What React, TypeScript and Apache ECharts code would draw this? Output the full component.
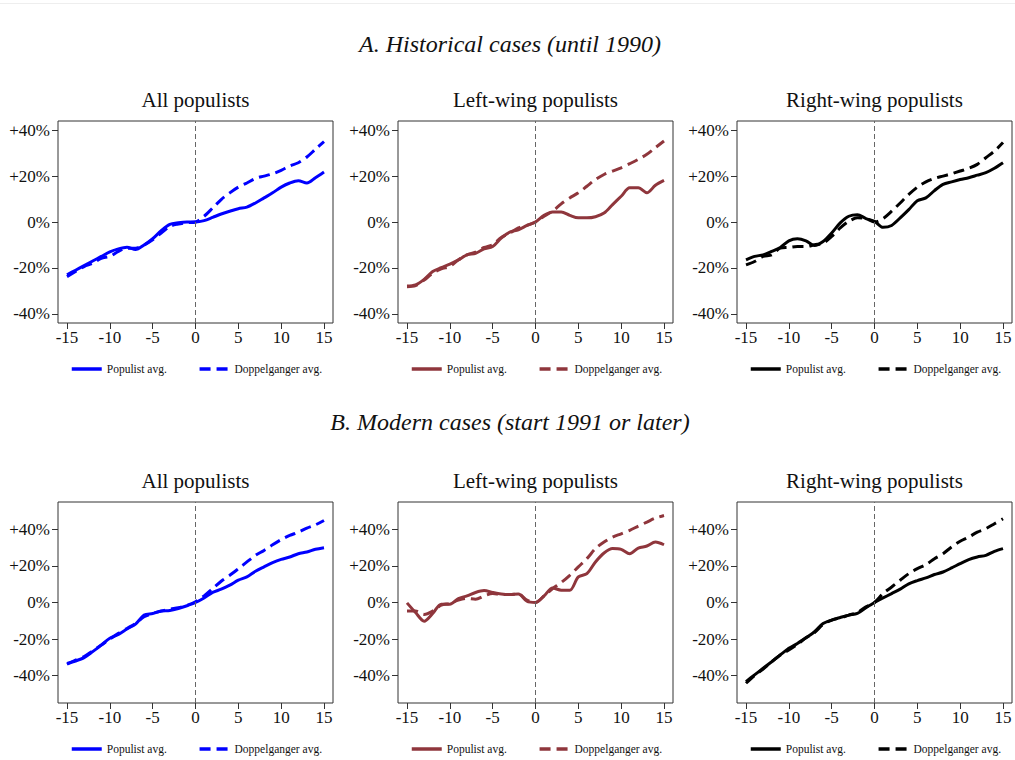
import React, { useEffect, useRef } from 'react';
import * as echarts from 'echarts';

const FONT = '"Liberation Serif", "Times New Roman", serif';

const years = [-15, -14, -13, -12, -11, -10, -9, -8, -7, -6, -5, -4, -3, -2, -1, 0, 1, 2, 3, 4, 5, 6, 7, 8, 9, 10, 11, 12, 13, 14, 15];
const xTicks = [-15, -10, -5, 0, 5, 10, 15];
const yTicks = [-40, -20, 0, 20, 40];

const headings = ['A. Historical cases (until 1990)', 'B. Modern cases (start 1991 or later)'];
const panelTitles = ['All populists', 'Left-wing populists', 'Right-wing populists'];
const legendNames = ['Populist avg.', 'Doppelganger avg.'];
const panelColors = ['#0000ff', '#8f363c', '#000000'];

// A. Historical cases
const histAllPop = [-23, -21, -19, -17, -15, -13, -11.7, -11, -12, -10, -7.3, -3.8, -1, -0.3, 0, 0, 0.6, 2, 3.5, 4.7, 5.8, 6.5, 8.3, 10.5, 12.7, 15.2, 17, 18, 17, 19.3, 21.8];
const histAllDop = [-23.8, -21.6, -19.4, -18, -15.8, -15, -12.8, -11.4, -11.4, -10, -7.7, -4.8, -1.9, -0.9, -0.3, 0, 2.5, 6.1, 9.8, 12.7, 15.2, 17, 19, 20, 21, 22.5, 24.4, 25.8, 28.3, 31.7, 35];
const histLeftPop = [-27.9, -27.4, -25, -21.6, -19.9, -18.4, -16.5, -14.3, -13.6, -11.7, -10.7, -7, -4.4, -3.4, -1.5, 0, 2.9, 4.4, 4.4, 2.9, 1.8, 1.8, 2.3, 3.9, 7.6, 11.2, 14.9, 14.9, 12.7, 16, 18.1];
const histLeftDop = [-28.2, -27.7, -25.3, -22.3, -20.4, -19.4, -16.5, -14.3, -13.1, -11.1, -9.9, -6.7, -4.8, -2.6, -1.5, 0, 2.5, 4.7, 7.9, 10.5, 12.7, 15.6, 18.5, 20.7, 22.2, 23.6, 25.4, 27.3, 29.5, 32.4, 35.3];
const histRightPop = [-16.5, -15, -14.3, -12.8, -11.1, -8.2, -7.3, -8.2, -10.2, -8.5, -4.8, -0.4, 2.5, 3.2, 1.5, 0.3, -2.3, -1.5, 1.8, 5.4, 9.3, 10.5, 13.7, 16.4, 17.5, 18.5, 19.3, 20.4, 21.5, 23.4, 25.8];
const histRightDop = [-18.7, -17.2, -15, -14.3, -11.4, -11.1, -10.7, -10.7, -9.9, -9.2, -6.3, -2.6, 0.3, 1.8, 1.5, 0, 1.5, 4.7, 8.3, 12, 15.2, 17.5, 19, 20, 21, 22.2, 23.4, 25.1, 28, 30.9, 34.6];

// B. Modern cases
const modAllPop = [-33.3, -32, -30.2, -26.9, -23.3, -19.6, -17.5, -14.5, -11.8, -6.9, -6, -4.7, -4.4, -3.3, -1.8, 0, 2.5, 5.5, 7.3, 9.5, 12.2, 14, 17.1, 19.5, 21.8, 23.6, 24.9, 26.7, 27.6, 29.1, 30];
const modAllDop = [-33.8, -31.5, -29.6, -26.5, -23.3, -20, -16.9, -14.2, -11.5, -7.8, -6, -4.7, -3.6, -2.9, -1.5, 0.4, 3.6, 7.6, 11.6, 14.9, 18.5, 22.2, 25.8, 28.5, 31.6, 34.4, 36.7, 38.5, 40.7, 42.5, 44.9];
const modLeftPop = [-0.2, -5.5, -10.2, -6, -0.9, -0.9, 2.2, 3.6, 5.5, 6.5, 5.5, 4.7, 4.4, 4.7, 0.7, 0, 3.6, 8, 6.7, 6.7, 14, 15.8, 22.2, 27.1, 29.5, 29.1, 26.7, 29.8, 30.9, 33.1, 31.6];
const modLeftDop = [-4.7, -4.7, -6.5, -4.7, -1.5, -0.5, 1.3, 2.2, 1.8, 3.6, 4.9, 4.4, 4.4, 4.7, 1.3, 0, 3.6, 7.6, 10.9, 14.9, 19.5, 24, 29.5, 33.1, 35.8, 37.6, 39.5, 41.8, 44, 46.2, 47.6];
const modRightPop = [-43.3, -39.6, -36, -32.4, -28.7, -25.1, -22.4, -19.3, -16, -11.5, -9.6, -8.2, -6.9, -6, -2.9, 0, 2.5, 4.9, 7.3, 10.2, 12, 13.5, 15.3, 16.7, 18.9, 21.3, 23.5, 24.9, 25.8, 28, 29.5];
const modRightDop = [-44.2, -40, -36.4, -32.4, -28.7, -26, -22.9, -19.3, -16.4, -12, -9.6, -8.4, -6.9, -5.5, -2.4, 0, 4.9, 8.5, 12.2, 15.8, 18.5, 20.7, 24, 26.7, 30.4, 33.5, 35.8, 38.5, 40.4, 43.1, 45.8];

const rowsData = [
  [[histAllPop, histAllDop], [histLeftPop, histLeftDop], [histRightPop, histRightDop]],
  [[modAllPop, modAllDop], [modLeftPop, modLeftDop], [modRightPop, modRightDop]],
];
const yLimits = [44, 55];

// layout
const boxLefts = [58, 398, 737];
const boxWidth = 275;
const boxTops = [121, 502];
const boxHeights = [202, 201];
const legendLefts = [65, 405, 744];
const legendTops = [358, 738];
const headingY = [44, 422];

function buildOption(row: number, col: number) {
  const color = panelColors[col];
  const [pop, dop] = rowsData[row][col];
  const left = boxLefts[col];
  const top = boxTops[row];
  const graphic: any[] = [
    {
      type: 'text',
      x: left + boxWidth / 2,
      y: top - 21,
      style: { text: panelTitles[col], align: 'center', verticalAlign: 'middle', fontSize: 21, fontFamily: FONT, fill: '#111' },
    },
  ];
  if (col === 0) {
    graphic.push({
      type: 'text',
      x: 510,
      y: headingY[row],
      style: { text: headings[row], align: 'center', verticalAlign: 'middle', fontSize: 24, fontStyle: 'italic', fontFamily: FONT, fill: '#111' },
    });
    if (row === 0) {
      graphic.push({ type: 'line', shape: { x1: 0, y1: 3.5, x2: 1015, y2: 3.5 }, style: { stroke: '#eeeeee', lineWidth: 1 } });
    }
  }
  return {
    animation: false,
    textStyle: { fontFamily: FONT },
    graphic,
    legend: {
      left: legendLefts[col],
      top: legendTops[row],
      itemWidth: 30,
      itemHeight: 14,
      itemGap: 31,
      itemStyle: { opacity: 0 },
      lineStyle: { width: 3.5 },
      textStyle: { fontFamily: FONT, fontSize: 11.5, color: '#111' },
      data: legendNames,
    },
    grid: {
      left,
      top,
      width: boxWidth,
      height: boxHeights[row],
      show: true,
      borderColor: '#333',
      borderWidth: 1,
      containLabel: false,
    },
    xAxis: {
      type: 'value',
      min: -16.05,
      max: 16.05,
      axisLine: { show: false, onZero: false },
      splitLine: { show: false },
      axisTick: { show: true, length: 6, customValues: xTicks, lineStyle: { color: '#333' } },
      axisLabel: { customValues: xTicks, margin: 6, fontSize: 17, color: '#111', fontFamily: FONT },
    },
    yAxis: {
      type: 'value',
      min: -yLimits[row],
      max: yLimits[row],
      axisLine: { show: false, onZero: false },
      splitLine: { show: false },
      axisTick: { show: true, length: 6, customValues: yTicks, lineStyle: { color: '#333' } },
      axisLabel: {
        customValues: yTicks,
        margin: 8,
        fontSize: 17,
        color: '#111',
        fontFamily: FONT,
        formatter: (v: number) => (v > 0 ? '+' + v + '%' : v + '%'),
      },
    },
    series: [
      {
        name: legendNames[0],
        type: 'line',
        z: 3,
        data: years.map((x, i) => [x, pop[i]]),
        symbol: 'none',
        smooth: 0.3,
        color,
        lineStyle: { color, width: 3, type: 'solid' },
        markLine: {
          silent: true,
          symbol: ['none', 'none'],
          label: { show: false },
          lineStyle: { color: '#666', width: 1, type: [5, 3] },
          data: [{ xAxis: 0 }],
        },
      },
      {
        name: legendNames[1],
        type: 'line',
        z: 2,
        data: years.map((x, i) => [x, dop[i]]),
        symbol: 'none',
        smooth: 0.3,
        color,
        lineStyle: { color, width: 3, type: [11, 6] },
      },
    ],
  };
}

function Panel({ row, col }: { row: number; col: number }) {
  const ref = useRef<HTMLDivElement>(null);
  useEffect(() => {
    if (!ref.current) return;
    const chart = echarts.init(ref.current, undefined, { renderer: 'svg' });
    chart.setOption(buildOption(row, col) as any);
    return () => chart.dispose();
  }, [row, col]);
  return <div ref={ref} style={{ position: 'absolute', left: 0, top: 0, width: 1015, height: 760 }} />;
}

export default function App() {
  const cells: JSX.Element[] = [];
  for (let r = 0; r < 2; r++) for (let c = 0; c < 3; c++) cells.push(<Panel key={r + '-' + c} row={r} col={c} />);
  return (
    <div style={{ position: 'absolute', left: 0, top: 0, width: 1015, height: 760, background: '#fff', overflow: 'hidden' }}>
      {cells}
    </div>
  );
}
